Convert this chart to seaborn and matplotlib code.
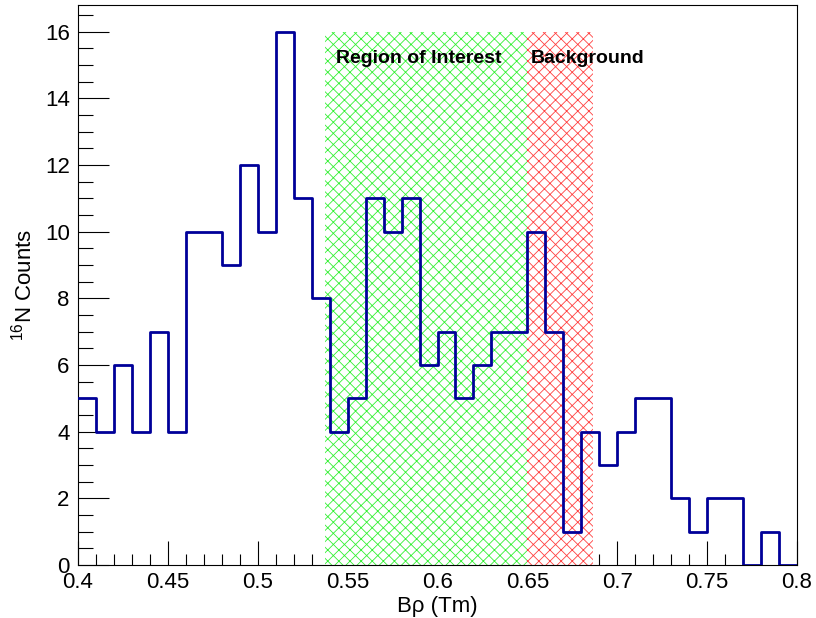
import matplotlib
matplotlib.use("Agg")
import matplotlib.pyplot as plt
import seaborn as sns
from matplotlib.ticker import MultipleLocator, FuncFormatter

# histogram, 0.01 Tm bins from 0.40 to 0.80
bin_edges = [round(0.40 + 0.01 * i, 2) for i in range(41)]
counts = [5, 4, 6, 4, 7, 4, 10, 10, 9, 12,
          10, 16, 11, 8, 4, 5, 11, 10, 11, 6,
          7, 5, 6, 7, 7, 10, 7, 1, 4, 3,
          4, 5, 5, 2, 1, 2, 2, 0, 1, 0]
roi = [0.5375, 0.65]
background = [0.65, 0.6865]
region_top = 16

centers = [(bin_edges[i] + bin_edges[i + 1]) / 2 for i in range(len(counts))]

sns.set_style("white")
plt.rcParams["font.family"] = ["Liberation Sans", "DejaVu Sans"]
plt.rcParams["mathtext.default"] = "regular"
plt.rcParams["hatch.linewidth"] = 0.6
plt.rcParams["text.color"] = "black"
plt.rcParams["axes.labelcolor"] = "black"
plt.rcParams["xtick.color"] = "black"
plt.rcParams["ytick.color"] = "black"

fig = plt.figure(figsize=(8.16, 6.18), dpi=100)
ax = fig.add_axes([78 / 816, 1 - 565 / 618, (797 - 78) / 816, (565 - 5) / 618])

# shaded regions (cross hatch)
ax.fill_between(roi, 0, region_top, facecolor="white", edgecolor="#33f033",
                hatch="xxx", linewidth=0, zorder=1)
ax.fill_between(background, 0, region_top, facecolor="white", edgecolor="#ff4040",
                hatch="xxx", linewidth=0, zorder=1)

sns.histplot(x=centers, weights=counts, bins=bin_edges, element="step",
             fill=False, color="#000099", linewidth=2, ax=ax, zorder=3)

ax.text(0.5435, 15.2, "Region of Interest", fontsize=14, fontweight="bold", va="center")
ax.text(0.652, 15.2, "Background", fontsize=14, fontweight="bold", va="center")

ax.set_xlim(0.4, 0.8)
ax.set_ylim(0, 16.8)
ax.xaxis.set_major_locator(MultipleLocator(0.05))
ax.xaxis.set_minor_locator(MultipleLocator(0.01))
ax.yaxis.set_major_locator(MultipleLocator(2))
ax.yaxis.set_minor_locator(MultipleLocator(0.5))
ax.xaxis.set_major_formatter(FuncFormatter(lambda v, p: f"{v:g}"))
ax.tick_params(which="both", direction="in", bottom=True, left=True, top=False, right=False,
               labelsize=16)
ax.tick_params(axis="x", which="major", length=17, width=0.8, pad=5)
ax.tick_params(axis="x", which="minor", length=8, width=0.8)
ax.tick_params(axis="y", which="major", length=22, width=0.8, pad=6)
ax.tick_params(axis="y", which="minor", length=11, width=0.8)
for s in ax.spines.values():
    s.set_color("black")
    s.set_linewidth(0.8)

ax.set_xlabel("Bρ (Tm)", fontsize=16, labelpad=2)
ax.set_ylabel("$^{16}$N Counts", fontsize=16, labelpad=6)

fig.savefig("out.png", dpi=100)
